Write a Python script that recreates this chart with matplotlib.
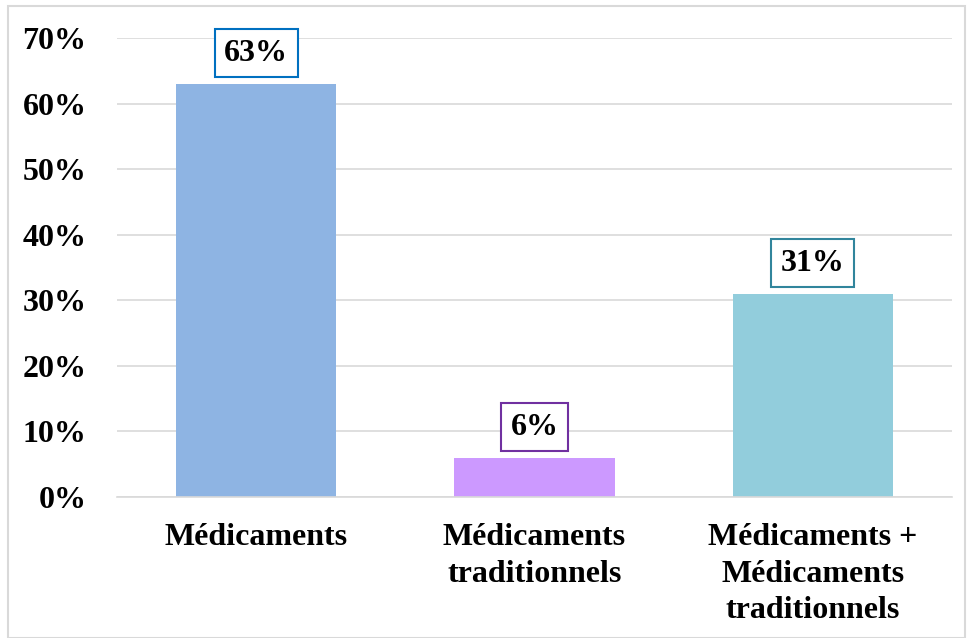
import matplotlib.pyplot as plt
from matplotlib.patches import Rectangle
from matplotlib.ticker import FuncFormatter

categories = ["Médicaments", "Médicaments\ntraditionnels", "Médicaments +\nMédicaments\ntraditionnels"]
values = [63, 6, 31]
bar_colors = ["#8EB4E3", "#CC99FF", "#92CDDC"]
box_colors = ["#0070C0", "#7030A0", "#31859C"]

plt.rcParams["font.family"] = ["Liberation Serif", "DejaVu Serif"]
plt.rcParams["font.weight"] = "bold"

fig = plt.figure(figsize=(9.69, 6.38), dpi=100)
ax = fig.add_axes([117 / 969, 1 - 497 / 638, (952 - 117) / 969, (497 - 38) / 638])

x = range(len(categories))
ax.bar(x, values, width=0.575, color=bar_colors, zorder=2)

for xi, v, ec in zip(x, values, box_colors):
    ax.annotate(f"{v}%", (xi, v), xytext=(0, 22), textcoords="offset points",
                ha="center", va="center", fontsize=23, fontweight="bold",
                bbox=dict(boxstyle="square,pad=0.3", fc="white", ec=ec, lw=1.5))

ax.set_xlim(-0.5, 2.5)
ax.set_ylim(0, 70)
ax.set_yticks(range(0, 71, 10))
ax.yaxis.set_major_formatter(FuncFormatter(lambda v, p: f"{v:.0f}%"))
ax.grid(axis="y", color="#D9D9D9", lw=1.2, zorder=0)
ax.set_xticks(list(x))
ax.set_xticklabels(categories, fontsize=23, fontweight="bold", linespacing=1.33)
ax.tick_params(length=0, labelsize=23, pad=19)
ax.tick_params(axis="y", pad=22)
for s in ["top", "right", "left"]:
    ax.spines[s].set_visible(False)
ax.spines["bottom"].set_color("#D9D9D9")
ax.spines["bottom"].set_linewidth(1.2)

fig.patches.append(Rectangle((8 / 969, 0), 957 / 969, 1 - 6 / 638, transform=fig.transFigure,
                             fill=False, ec="#D9D9D9", lw=1.5))

fig.savefig("out.png", dpi=100)
